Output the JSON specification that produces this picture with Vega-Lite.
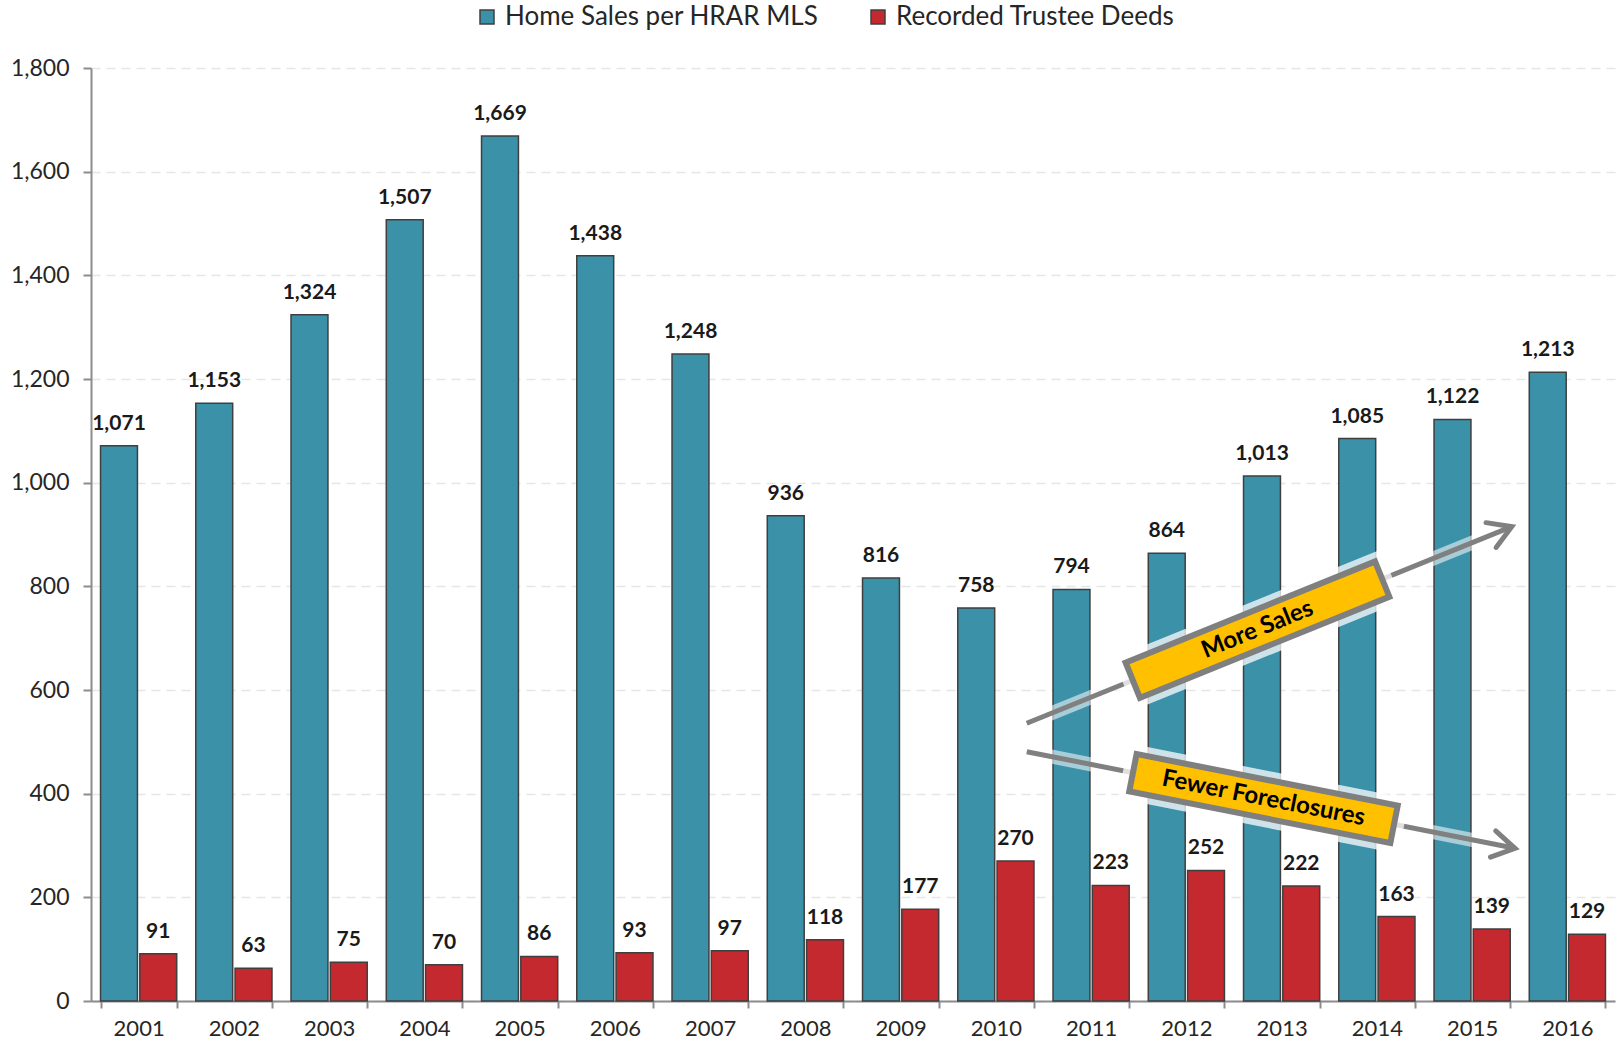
{
  "$schema": "https://vega.github.io/schema/vega-lite/v6.json",
  "width": 1524,
  "height": 933,
  "autosize": "none",
  "padding": {"left": 91, "top": 68, "right": 2, "bottom": 45},
  "background": "white",
  "config": {
    "font": "Lato",
    "view": {"stroke": null}
  },
  "datasets": {
    "sales": [
      {"year": "2001", "series": "Home Sales per HRAR MLS", "value": 1071},
      {"year": "2002", "series": "Home Sales per HRAR MLS", "value": 1153},
      {"year": "2003", "series": "Home Sales per HRAR MLS", "value": 1324},
      {"year": "2004", "series": "Home Sales per HRAR MLS", "value": 1507},
      {"year": "2005", "series": "Home Sales per HRAR MLS", "value": 1669},
      {"year": "2006", "series": "Home Sales per HRAR MLS", "value": 1438},
      {"year": "2007", "series": "Home Sales per HRAR MLS", "value": 1248},
      {"year": "2008", "series": "Home Sales per HRAR MLS", "value": 936},
      {"year": "2009", "series": "Home Sales per HRAR MLS", "value": 816},
      {"year": "2010", "series": "Home Sales per HRAR MLS", "value": 758},
      {"year": "2011", "series": "Home Sales per HRAR MLS", "value": 794},
      {"year": "2012", "series": "Home Sales per HRAR MLS", "value": 864},
      {"year": "2013", "series": "Home Sales per HRAR MLS", "value": 1013},
      {"year": "2014", "series": "Home Sales per HRAR MLS", "value": 1085},
      {"year": "2015", "series": "Home Sales per HRAR MLS", "value": 1122},
      {"year": "2016", "series": "Home Sales per HRAR MLS", "value": 1213},
      {"year": "2001", "series": "Recorded Trustee Deeds", "value": 91},
      {"year": "2002", "series": "Recorded Trustee Deeds", "value": 63},
      {"year": "2003", "series": "Recorded Trustee Deeds", "value": 75},
      {"year": "2004", "series": "Recorded Trustee Deeds", "value": 70},
      {"year": "2005", "series": "Recorded Trustee Deeds", "value": 86},
      {"year": "2006", "series": "Recorded Trustee Deeds", "value": 93},
      {"year": "2007", "series": "Recorded Trustee Deeds", "value": 97},
      {"year": "2008", "series": "Recorded Trustee Deeds", "value": 118},
      {"year": "2009", "series": "Recorded Trustee Deeds", "value": 177},
      {"year": "2010", "series": "Recorded Trustee Deeds", "value": 270},
      {"year": "2011", "series": "Recorded Trustee Deeds", "value": 223},
      {"year": "2012", "series": "Recorded Trustee Deeds", "value": 252},
      {"year": "2013", "series": "Recorded Trustee Deeds", "value": 222},
      {"year": "2014", "series": "Recorded Trustee Deeds", "value": 163},
      {"year": "2015", "series": "Recorded Trustee Deeds", "value": 139},
      {"year": "2016", "series": "Recorded Trustee Deeds", "value": 129}
    ],
    "notes": [
      {"part": "salesArrow", "x": 9.824, "y": 535.8},
      {"part": "salesArrow", "x": 14.916, "y": 915.1},
      {"part": "forecArrow", "x": 9.824, "y": 481.0},
      {"part": "forecArrow", "x": 14.950, "y": 294.6},
      {"part": "salesHead", "x": 14.916, "y": 915.1},
      {"part": "forecHead", "x": 14.950, "y": 294.6},
      {"part": "salesGlow", "x": 10.840, "y": 611.4},
      {"part": "salesGlow", "x": 13.653, "y": 821.1},
      {"part": "forecGlow", "x": 10.836, "y": 444.1},
      {"part": "forecGlow", "x": 13.784, "y": 337.0},
      {"part": "salesOuter", "x": 10.908, "y": 616.6},
      {"part": "salesOuter", "x": 13.585, "y": 816.1},
      {"part": "forecOuter", "x": 10.908, "y": 441.6},
      {"part": "forecOuter", "x": 13.711, "y": 339.8},
      {"part": "salesInner", "x": 10.967, "y": 621.0},
      {"part": "salesInner", "x": 13.527, "y": 811.7},
      {"part": "forecInner", "x": 10.970, "y": 439.3},
      {"part": "forecInner", "x": 13.649, "y": 341.9},
      {"part": "salesText", "x": 12.2465, "y": 716.35, "label": "More Sales"},
      {"part": "forecText", "x": 12.31, "y": 390.7, "label": "Fewer Foreclosures"}
    ]
  },
  "layer": [
    {
      "data": {"name": "sales"},
      "encoding": {
        "x": {
          "field": "year",
          "type": "nominal",
          "scale": {"paddingInner": 0.2, "paddingOuter": 0.1},
          "axis": {
            "title": null,
            "labelAngle": 0,
            "tickBand": "extent",
            "labelFontSize": 22,
            "labelColor": "#262626",
            "labelPadding": 10,
            "domainColor": "#8c8c8c",
            "domainWidth": 2,
            "tickColor": "#8c8c8c",
            "tickWidth": 2,
            "tickSize": 7,
            "grid": false
          }
        },
        "xOffset": {"field": "series", "type": "nominal", "scale": {"paddingInner": 0.06}},
        "y": {
          "field": "value",
          "type": "quantitative",
          "scale": {"domain": [0, 1800], "nice": false},
          "axis": {
            "title": null,
            "values": [0, 200, 400, 600, 800, 1000, 1200, 1400, 1600, 1800],
            "format": ",.0f",
            "labelFontSize": 23,
            "labelColor": "#262626",
            "labelPadding": 14,
            "domainColor": "#8c8c8c",
            "domainWidth": 2,
            "tickColor": "#8c8c8c",
            "tickWidth": 2,
            "tickSize": 8,
            "grid": true,
            "gridColor": "#e6e6e6",
            "gridWidth": 1.5,
            "gridDash": [9, 6]
          }
        }
      },
      "layer": [
        {
          "mark": {"type": "bar", "stroke": "#3f3f3f", "strokeWidth": 1.5},
          "encoding": {
            "color": {
              "field": "series",
              "type": "nominal",
              "scale": {
                "domain": ["Home Sales per HRAR MLS", "Recorded Trustee Deeds"],
                "range": ["#3A91A8", "#C3292E"]
              },
              "legend": {
                "title": null,
                "orient": "none",
                "legendX": 383,
                "legendY": -64,
                "direction": "horizontal",
                "labelFontSize": 26,
                "labelLimit": 0,
                "labelColor": "#262626",
                "labelOffset": 5,
                "columnPadding": 46,
                "symbolType": "square",
                "symbolSize": 196,
                "symbolStrokeColor": "#404040",
                "symbolStrokeWidth": 1.5
              }
            }
          }
        },
        {
          "mark": {"type": "text", "fontWeight": "bold", "fontSize": 21, "baseline": "alphabetic", "dy": -16, "color": "#1a1a1a"},
          "encoding": {
            "text": {"field": "value", "type": "quantitative", "format": ","}
          }
        }
      ]
    },
    {
      "data": {"name": "notes"},
      "encoding": {
        "x": {"field": "x", "type": "quantitative", "scale": {"domain": [0, 16], "nice": false, "zero": false}, "axis": null},
        "y": {"field": "y", "type": "quantitative"}
      },
      "layer": [
        {
          "transform": [{"filter": "datum.part == 'salesArrow' || datum.part == 'forecArrow'"}],
          "mark": {"type": "line", "color": "white", "strokeWidth": 14, "opacity": 0.55, "strokeCap": "butt"},
          "encoding": {"detail": {"field": "part"}}
        },
        {
          "transform": [{"filter": "datum.part == 'salesArrow' || datum.part == 'forecArrow'"}],
          "mark": {"type": "line", "color": "#808080", "strokeWidth": 5, "strokeCap": "butt"},
          "encoding": {"detail": {"field": "part"}}
        },
        {
          "transform": [{"filter": "datum.part == 'salesHead'"}],
          "mark": {"type": "point", "shape": "M-1,-0.6L0,0L-1,0.6", "filled": false, "stroke": "#808080", "strokeWidth": 5, "strokeCap": "round", "strokeJoin": "miter", "size": 1990, "angle": 337.93, "opacity": 1}
        },
        {
          "transform": [{"filter": "datum.part == 'forecHead'"}],
          "mark": {"type": "point", "shape": "M-1,-0.6L0,0L-1,0.6", "filled": false, "stroke": "#808080", "strokeWidth": 5, "strokeCap": "round", "strokeJoin": "miter", "size": 1990, "angle": 11.19, "opacity": 1}
        },
        {
          "transform": [{"filter": "datum.part == 'salesGlow' || datum.part == 'forecGlow'"}],
          "mark": {"type": "line", "color": "white", "strokeWidth": 56, "opacity": 0.75, "strokeCap": "butt"},
          "encoding": {"detail": {"field": "part"}}
        },
        {
          "transform": [{"filter": "datum.part == 'salesOuter' || datum.part == 'forecOuter'"}],
          "mark": {"type": "line", "color": "#7f7f7f", "strokeWidth": 44, "strokeCap": "butt"},
          "encoding": {"detail": {"field": "part"}}
        },
        {
          "transform": [{"filter": "datum.part == 'salesInner' || datum.part == 'forecInner'"}],
          "mark": {"type": "line", "color": "#FFC000", "strokeWidth": 32, "strokeCap": "butt"},
          "encoding": {"detail": {"field": "part"}}
        },
        {
          "transform": [{"filter": "datum.part == 'salesText'"}],
          "mark": {"type": "text", "fontWeight": "bold", "fontSize": 24, "angle": 337.93, "align": "center", "baseline": "middle", "color": "#000000"},
          "encoding": {"text": {"field": "label"}}
        },
        {
          "transform": [{"filter": "datum.part == 'forecText'"}],
          "mark": {"type": "text", "fontWeight": "bold", "fontSize": 24, "angle": 11.19, "align": "center", "baseline": "middle", "color": "#000000"},
          "encoding": {"text": {"field": "label"}}
        }
      ]
    }
  ],
  "resolve": {"scale": {"x": "independent"}}
}
